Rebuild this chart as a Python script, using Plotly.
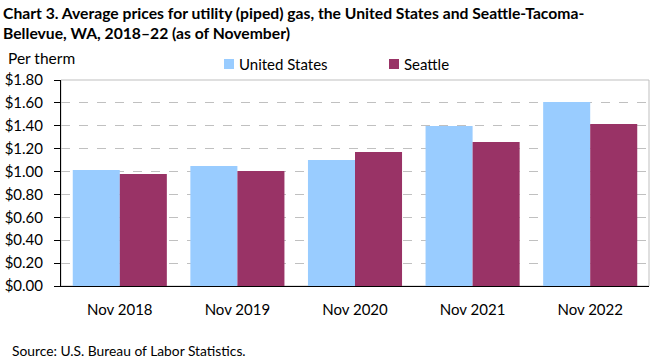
import plotly.graph_objects as go

categories = ["Nov 2018", "Nov 2019", "Nov 2020", "Nov 2021", "Nov 2022"]
series_names = ["United States", "Seattle"]
us_values = [1.014, 1.049, 1.101, 1.399, 1.608]
seattle_values = [0.979, 1.005, 1.171, 1.259, 1.416]
colors = ["#99ccff", "#993366"]
tick_vals = [0.0, 0.2, 0.4, 0.6, 0.8, 1.0, 1.2, 1.4, 1.6, 1.8]
tick_text = ["$%.2f" % v for v in tick_vals]

FONT = "Lato"
W, H = 661, 361
ML, MR, MT, MB = 61, 12, 80, 75
PW, PH = W - ML - MR, H - MT - MB


def px(x):
    return (x - ML) / PW


def py(y):
    return (H - MB - y) / PH


fig = go.Figure()
for name, vals, col in zip(series_names, [us_values, seattle_values], colors):
    fig.add_trace(go.Bar(name=name, x=categories, y=vals,
                         marker=dict(color=col, line=dict(width=0))))

shapes = [dict(type="rect", xref="paper", yref="paper", x0=0, x1=1, y0=0, y1=1,
               line=dict(color="#bfbfbf", width=1), layer="below")]
annotations = [
    dict(text="<b>Chart 3. Average prices for utility (piped) gas, the United States and Seattle-Tacoma-<br>Bellevue, WA, 2018–22 (as of November)</b>",
         xref="paper", yref="paper", x=px(1), y=py(23), xanchor="left", yanchor="middle",
         align="left", showarrow=False, font=dict(size=15.7)),
    dict(text="Per therm", xref="paper", yref="paper", x=px(6), y=py(58),
         xanchor="left", yanchor="middle", showarrow=False, font=dict(size=15.5)),
    dict(text="Source: U.S. Bureau of Labor Statistics.", xref="paper", yref="paper",
         x=px(10), y=py(350), xanchor="left", yanchor="middle", showarrow=False,
         font=dict(size=13.8)),
]
# manual legend
legend_x = [224, 389]
for lx, name, col in zip(legend_x, series_names, colors):
    shapes.append(dict(type="rect", xref="paper", yref="paper",
                       x0=px(lx), x1=px(lx + 10), y0=py(69), y1=py(59),
                       fillcolor=col, line=dict(width=0), layer="above"))
    annotations.append(dict(text=name, xref="paper", yref="paper", x=px(lx + 13), y=py(64),
                            xanchor="left", yanchor="middle", showarrow=False,
                            font=dict(size=15)))

fig.update_layout(
    width=W, height=H,
    margin=dict(l=ML, r=MR, t=MT, b=MB, autoexpand=False),
    paper_bgcolor="white", plot_bgcolor="white",
    barmode="group", bargap=0.2, bargroupgap=0,
    font=dict(family=FONT, size=15, color="#000000"),
    showlegend=False,
    xaxis=dict(showline=True, linecolor="#000000", linewidth=1, ticks="",
               tickfont=dict(size=15), showgrid=False, ticklabelstandoff=10),
    yaxis=dict(range=[0, 1.8], tickvals=tick_vals, ticktext=tick_text,
               showline=True, linecolor="#000000", linewidth=1,
               ticks="outside", ticklen=6, tickcolor="#000000",
               showgrid=True, gridcolor="#c0c0c0", griddash="dash", gridwidth=1,
               zeroline=False, tickfont=dict(size=15), ticklabelstandoff=8),
    shapes=shapes,
    annotations=annotations,
)

fig.write_html("out.html", config={"displayModeBar": False},
               post_script="document.body.style.margin='0';document.body.style.overflow='hidden';")
